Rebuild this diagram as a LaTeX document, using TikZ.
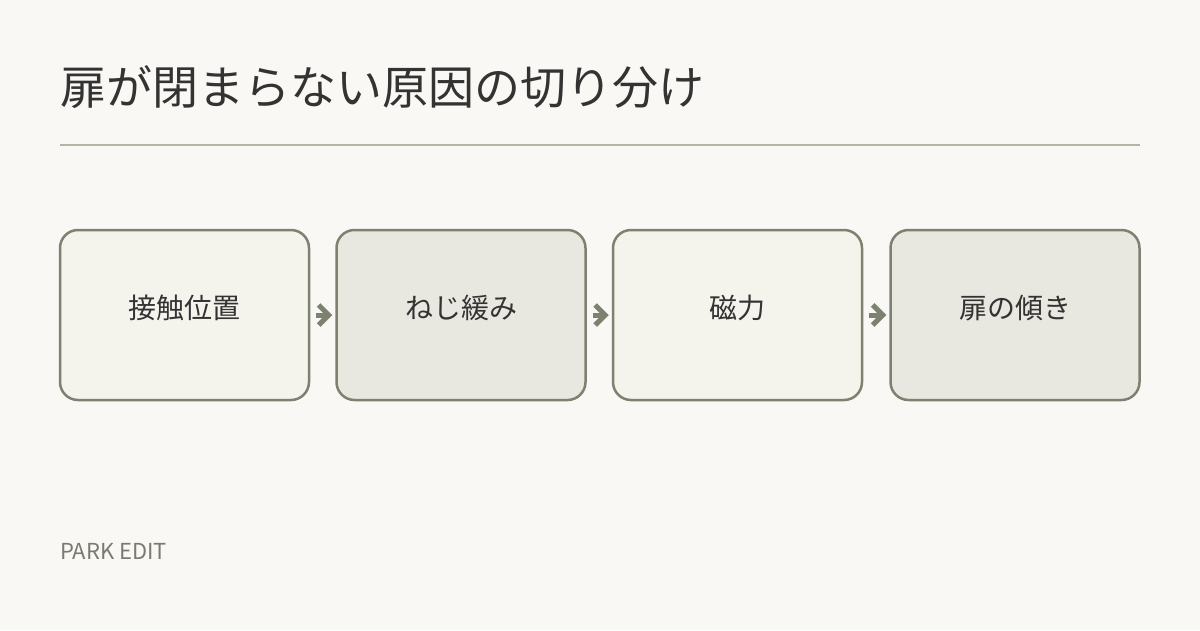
\documentclass[tikz,border=0pt]{standalone}
\usepackage{fontspec}
\setmainfont{Noto Sans CJK JP}
\newfontfamily\jpfont{Noto Sans CJK JP}
\usetikzlibrary{arrows.meta}
\definecolor{bg}{HTML}{F9F8F4}
\definecolor{rulec}{HTML}{B5B5A5}
\definecolor{edge}{HTML}{7D8270}
\definecolor{fillA}{HTML}{F4F3EC}
\definecolor{fillB}{HTML}{E9E8E0}
\definecolor{ink}{HTML}{333333}
\definecolor{muted}{HTML}{7A7A72}
\tikzset{
  stepbox/.style={draw=edge, line width=2.5pt, rounded corners=18pt, minimum width=249pt, minimum height=170pt, inner sep=0pt, text=ink, font=\jpfont\fontsize{28pt}{32pt}\selectfont},
  light/.style={stepbox, fill=fillA},
  dark/.style={stepbox, fill=fillB},
  lbl/.style={inner sep=0pt, text=ink, font=\jpfont\fontsize{28pt}{32pt}\selectfont},
  flow/.style={draw=edge, line width=5pt, -{Straight Barb[length=10pt,width=20pt,line width=5pt]}, shorten <=6pt, shorten >=3pt}
}
\begin{document}
\begin{tikzpicture}[x=1pt,y=-1pt]
\fill[bg] (0,0) rectangle (1200,630);
\useasboundingbox (0,0) rectangle (1200,630);
\node[anchor=base west, inner sep=0pt, text=ink, font=\jpfont\fontsize{46pt}{50pt}\selectfont] (title) at (60,104) {扉が閉まらない原因の切り分け};
\coordinate (r1) at (60,145);
\coordinate (r2) at (1140,145);
\draw[rulec, line width=2pt] (r1) -- (r2);
\node[light] (b1) at (184.5,315) {};
\node[dark] (b2) at (461,315) {};
\node[light] (b3) at (737.5,315) {};
\node[dark] (b4) at (1015,315) {};
\node[lbl] (t1) at (184.5,308) {接触位置};
\node[lbl] (t2) at (461,308) {ねじ緩み};
\node[lbl] (t3) at (737.5,308) {磁力};
\node[lbl] (t4) at (1015,308) {扉の傾き};
\draw[flow] (b1.east) -- (b2.west);
\draw[flow] (b2.east) -- (b3.west);
\draw[flow] (b3.east) -- (b4.west);
\node[anchor=base west, inner sep=0pt, text=muted, font=\jpfont\fontsize{22pt}{24pt}\selectfont] (brand) at (60,559) {PARK EDIT};
\end{tikzpicture}
\end{document}
